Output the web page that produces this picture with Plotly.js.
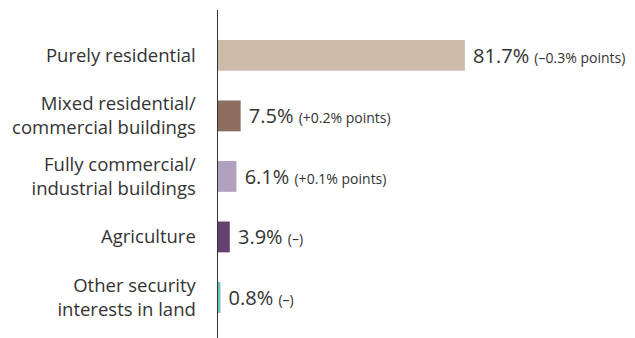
<!DOCTYPE html>
<html>
<head>
<meta charset="utf-8">
<script src="https://cdn.plot.ly/plotly-3.0.1.min.js"></script>
<style>html,body{margin:0;padding:0;background:#fff}#chart{width:635px;height:338px}</style>
</head>
<body>
<div id="chart"></div>
<script>
const categories = ["Purely residential", "Mixed residential/<br>commercial buildings", "Fully commercial/<br>industrial buildings", "Agriculture", "Other security<br>interests in land"];
const shares = [81.7, 7.5, 6.1, 3.9, 0.8];
const changes = ["(\u20130.3% points)", "(+0.2% points)", "(+0.1% points)", "(\u2013)", "(\u2013)"];
const colors = ["#cbbba9", "#8b6e5e", "#b1a0bf", "#63426f", "#6cbfc0"];

const labels = shares.map((v, i) => ' ' + v.toFixed(1) + '% <span style="font-size:14px">' + changes[i] + '</span>');

const trace = {
  type: 'bar',
  orientation: 'h',
  x: shares,
  y: categories,
  marker: {color: colors},
  text: labels,
  textposition: 'outside',
  constraintext: 'none',
  textfont: {family: 'Open Sans, sans-serif', size: 20, color: '#333'},
  cliponaxis: false,
  hoverinfo: 'none'
};

const layout = {
  width: 635, height: 338,
  margin: {l: 218, r: 0, t: 10, b: 0},
  paper_bgcolor: '#fff', plot_bgcolor: '#fff',
  bargap: 0.49,
  showlegend: false,
  font: {family: 'Open Sans, sans-serif', color: '#333'},
  xaxis: {range: [0, 138], showgrid: false, zeroline: false, showticklabels: false, showline: false, fixedrange: true},
  yaxis: {
    range: [4.67, -0.75], showgrid: false, zeroline: false,
    showline: true, linecolor: '#333', linewidth: 1.5,
    ticks: 'outside', ticklen: 17, tickcolor: 'rgba(0,0,0,0)',
    tickfont: {family: 'Open Sans, sans-serif', size: 18.5, color: '#333'}
  }
};

Plotly.newPlot('chart', [trace], layout, {staticPlot: true});
</script>
</body>
</html>
